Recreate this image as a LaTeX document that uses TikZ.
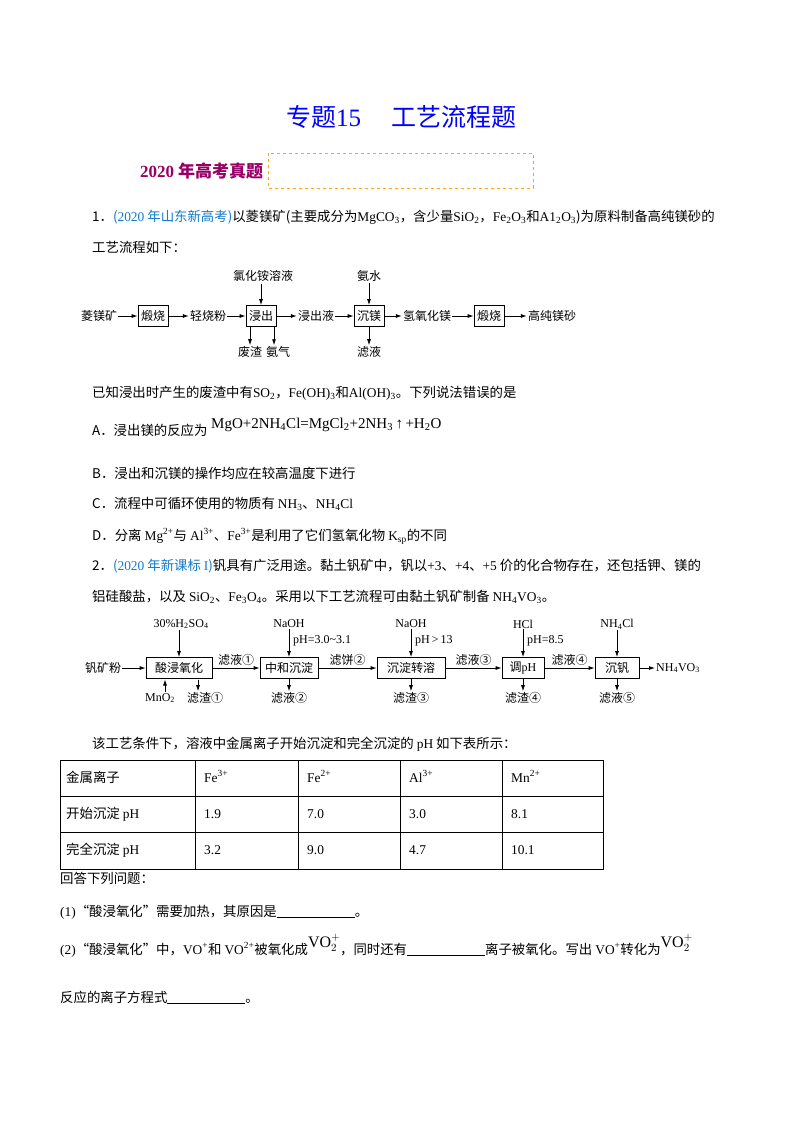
\documentclass[tikz,border=0pt]{standalone}
\usepackage{fontspec}
\setmainfont{Noto Sans CJK SC}
\newfontfamily\lt{Liberation Serif}
\usetikzlibrary{arrows.meta}
\newcommand\sbb[1]{\textsubscript{#1}}
\newcommand\spp[1]{\textsuperscript{#1}}
\begin{document}
\begin{tikzpicture}[x=1pt,y=-1pt,
  txt/.style={anchor=base west,inner sep=0,font=\fontsize{13.4}{15}\selectfont},
  fl/.style={inner sep=1pt,font=\fontsize{12}{14}\selectfont},
  bx/.style={draw,thick,inner sep=3pt,minimum height=21,font=\fontsize{12}{14}\selectfont},
  ar/.style={-{Latex[length=6pt,width=4pt]},thick}]
\useasboundingbox (0,0) rectangle (800,1132);
\fill[white] (0,0) rectangle (800,1132);
% header
\node[inner sep=0,text=blue,font=\fontsize{25}{28}\selectfont] (title) at (401,117) {专题{\lt 15}\hspace{30pt}工艺流程题};
\draw[orange!70!yellow,dashed,thick] (268,153) rectangle (533,188);
\node[anchor=west,inner sep=0,text=violet!80!red,font=\fontsize{17}{20}\bfseries] (sec) at (140,171) {{\lt\bfseries 2020} 年高考真题};
% Q1
\node[txt] (l1) at (92,221) {1．\textcolor{cyan!60!blue}{({\lt 2020} 年山东新高考)}以菱镁矿(主要成分为{\lt MgCO\sbb3}，含少量{\lt SiO\sbb2}，{\lt Fe\sbb2O\sbb3}和{\lt A1\sbb2O\sbb3})为原料制备高纯镁砂的};
\node[txt] (l2) at (92,252) {工艺流程如下：};
% flow 1
\node[fl] (f1) at (99,316) {菱镁矿};
\node[bx] (b1) at (153,316) {煅烧};
\node[fl] (f2) at (208,316) {轻烧粉};
\node[bx] (b2) at (261,316) {浸出};
\node[fl] (f3) at (316,316) {浸出液};
\node[bx] (b3) at (369,316) {沉镁};
\node[fl] (f4) at (427,316) {氢氧化镁};
\node[bx] (b4) at (489,316) {煅烧};
\node[fl] (f5) at (552,316) {高纯镁砂};
\foreach \a/\b in {f1/b1,b1/f2,f2/b2,b2/f3,f3/b3,b3/f4,f4/b4,b4/f5} \draw[ar] (\a) -- (\b);
\node[fl] (t1) at (263,276) {氯化铵溶液};
\node[fl] (t2) at (369,276) {氨水};
\coordinate (t1a) at (261,284); \draw[ar] (t1a) -- (b2.north);
\draw[ar] (t2) -- (b3.north);
\node[fl] (w1) at (250,352) {废渣};
\node[fl] (w2) at (278,352) {氨气};
\node[fl] (w3) at (369,352) {滤液};
\coordinate (d1) at (250,326.5); \coordinate (d2) at (274,326.5);
\draw[ar] (d1) -- (w1.north); \draw[ar] (d2) -- (d2|-w2.north);
\draw[ar] (b3) -- (w3);
% statements
\node[txt] (s0) at (92,397) {已知浸出时产生的废渣中有{\lt SO\sbb2}，{\lt Fe(OH)\sbb3}和{\lt Al(OH)\sbb3}。下列说法错误的是};
\node[txt] (sa) at (92,435) {A．浸出镁的反应为};
\node[txt,font=\fontsize{15}{17}\selectfont] (eq) at (211,428) {\lt MgO+2NH\sbb4Cl=MgCl\sbb2+2NH\sbb3\,↑\,+H\sbb2O};
\node[txt] (sb) at (92,478) {B．浸出和沉镁的操作均应在较高温度下进行};
\node[txt] (sc) at (92,508) {C．流程中可循环使用的物质有 {\lt NH\sbb3}、{\lt NH\sbb4Cl}};
\node[txt] (sd) at (92,540) {D．分离 {\lt Mg\spp{2+}}与 {\lt Al\spp{3+}}、{\lt Fe\spp{3+}}是利用了它们氢氧化物 {\lt K\sbb{sp}}的不同};
% Q2
\node[txt] (q2) at (92,570) {2．\textcolor{cyan!60!blue}{({\lt 2020} 年新课标 {\lt I})}钒具有广泛用途。黏土钒矿中，钒以{\lt +3}、{\lt +4}、{\lt +5} 价的化合物存在，还包括钾、镁的};
\node[txt] (q2b) at (92,601) {铝硅酸盐，以及 {\lt SiO\sbb2}、{\lt Fe\sbb3O\sbb4}。采用以下工艺流程可由黏土钒矿制备 {\lt NH\sbb4VO\sbb3}。};
% flow 2
\node[fl] (g0) at (103,668) {钒矿粉};
\node[bx,minimum width=66] (c1) at (179,668) {酸浸氧化};
\node[bx,minimum width=58] (c2) at (289,668) {中和沉淀};
\node[bx,minimum width=68] (c3) at (411,668) {沉淀转溶};
\node[bx,minimum width=42] (c4) at (523,668) {调{\lt pH}};
\node[bx,minimum width=44] (c5) at (617,668) {沉钒};
\node[fl,anchor=west] (g6) at (655,668) {\lt NH\sbb4VO\sbb3};
\draw[ar] (g0) -- (c1); \draw[ar] (c5) -- (g6);
\draw[ar] (c1) -- node[fl,above=1pt] {滤液①} (c2);
\draw[ar] (c2) -- node[fl,above=1pt] {滤饼②} (c3);
\draw[ar] (c3) -- node[fl,above=1pt] {滤液③} (c4);
\draw[ar] (c4) -- node[fl,above=1pt] {滤液④} (c5);
\node[fl] (h1) at (181,624) {\lt 30\%H\sbb2SO\sbb4};
\node[fl] (h2) at (289,624) {\lt NaOH};
\node[fl] (h3) at (411,624) {\lt NaOH};
\node[fl] (h4) at (523,624) {\lt HCl};
\node[fl] (h5) at (617,624) {\lt NH\sbb4Cl};
\foreach \h/\c in {h1/c1,h2/c2,h3/c3,h4/c4,h5/c5} \draw[ar] (\c.north|-\h.south) -- (\c.north);
\node[fl,anchor=west] at (292,641) {\lt pH=3.0\textasciitilde3.1};
\node[fl,anchor=west] at (414,641) {\lt pH\,>\,13};
\node[fl,anchor=west] at (526,641) {\lt pH=8.5};
\node[fl] (m1) at (160,698) {\lt MnO\sbb2};
\node[fl] (e1) at (205,698) {滤渣①};
\node[fl] (e2) at (289,698) {滤液②};
\node[fl] (e3) at (411,698) {滤渣③};
\node[fl] (e4) at (523,698) {滤渣④};
\node[fl] (e5) at (617,698) {滤液⑤};
\draw[ar] (m1.north-|165,0) -- (165,679.5);
\coordinate (k1) at (198,679.5); \draw[ar] (k1) -- (k1|-e1.north);
\foreach \e/\c in {e2/c2,e3/c3,e4/c4,e5/c5} \draw[ar] (\c) -- (\e);
% table
\node[txt] (tt) at (92,748) {该工艺条件下，溶液中金属离子开始沉淀和完全沉淀的 {\lt pH} 如下表所示：};
\draw[thick] (60,760) rectangle (603,869);
\foreach \x in {195,298,400,502} \draw[thick] (\x,760) -- (\x,869);
\foreach \y in {796,832} \draw[thick] (60,\y) -- (603,\y);
\node[txt] at (66,782) {金属离子};
\node[txt] at (204,782) {\lt Fe\spp{3+}};
\node[txt] at (307,782) {\lt Fe\spp{2+}};
\node[txt] at (409,782) {\lt Al\spp{3+}};
\node[txt] at (511,782) {\lt Mn\spp{2+}};
\node[txt] at (66,818) {开始沉淀 {\lt pH}};
\node[txt] at (204,818) {\lt 1.9};
\node[txt] at (307,818) {\lt 7.0};
\node[txt] at (409,818) {\lt 3.0};
\node[txt] at (511,818) {\lt 8.1};
\node[txt] at (66,854) {完全沉淀 {\lt pH}};
\node[txt] at (204,854) {\lt 3.2};
\node[txt] at (307,854) {\lt 9.0};
\node[txt] at (409,854) {\lt 4.7};
\node[txt] at (511,854) {\lt 10.1};
% questions
\node[txt] (r0) at (60,883) {回答下列问题：};
\node[txt] (r1) at (60,916) {{\lt(1)}“酸浸氧化”需要加热，其原因是\underline{\hspace{78pt}}。};
\node[txt] (r2) at (60,954) {{\lt(2)}“酸浸氧化”中，{\lt VO\spp{+}}和 {\lt VO\spp{2+}}被氧化成\raisebox{7pt}{\fontsize{16}{18}\selectfont\lt VO$_2^{+}$}，同时还有\underline{\hspace{78pt}}离子被氧化。写出 {\lt VO\spp{+}}转化为\raisebox{7pt}{\fontsize{16}{18}\selectfont\lt VO$_2^{+}$}};
\node[txt] (r3) at (60,1002) {反应的离子方程式\underline{\hspace{78pt}}。};
\end{tikzpicture}
\end{document}
